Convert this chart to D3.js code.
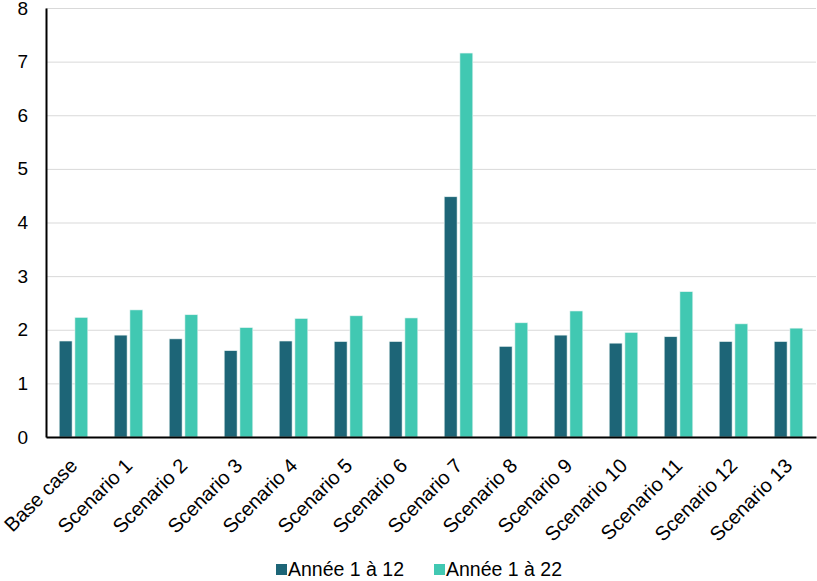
<!DOCTYPE html>
<html>
<head>
<meta charset="utf-8">
<script src="https://cdn.jsdelivr.net/npm/d3@7"></script>
<style>
  body { margin: 0; background: #fff; }
  text { font-family: "Liberation Sans", Arial, sans-serif; fill: #000; }
</style>
</head>
<body>
<svg id="chart" width="817" height="581"></svg>
<script>
const categories = ["Base case", "Scenario 1", "Scenario 2", "Scenario 3", "Scenario 4", "Scenario 5", "Scenario 6",
  "Scenario 7", "Scenario 8", "Scenario 9", "Scenario 10", "Scenario 11", "Scenario 12", "Scenario 13"];
const seriesNames = ["Année 1 à 12", "Année 1 à 22"];
const annee12 = [1.79, 1.90, 1.83, 1.61, 1.79, 1.78, 1.78, 4.48, 1.69, 1.90, 1.75, 1.87, 1.78, 1.78];
const annee22 = [2.23, 2.37, 2.28, 2.04, 2.21, 2.26, 2.22, 7.16, 2.13, 2.35, 1.95, 2.71, 2.11, 2.03];
const yTicks = [0, 1, 2, 3, 4, 5, 6, 7, 8];
const colors = ["#1d6577", "#41c8b2"];

const svg = d3.select('#chart');
const margin = { top: 8, right: 1, bottom: 144, left: 46 };
const width = +svg.attr('width');
const height = +svg.attr('height');
const innerWidth = width - margin.left - margin.right;
const innerHeight = height - margin.top - margin.bottom;

const rows = categories.map((c, i) => ({ cat: c, values: [annee12[i], annee22[i]] }));

const x = d3.scaleBand().domain(categories).range([0, innerWidth]).paddingInner(0.48).paddingOuter(0.24);
const xSub = d3.scaleBand().domain([0, 1]).range([0, x.bandwidth()]).paddingInner(0.18);
const y = d3.scaleLinear().domain([0, 8]).range([innerHeight, 0]);

const g = svg.append('g').attr('transform', 'translate(' + margin.left + ',' + margin.top + ')');

// gridlines
g.append('g')
  .call(d3.axisLeft(y).tickValues(yTicks).tickSize(-innerWidth).tickFormat(''))
  .call(a => a.select('.domain').remove())
  .selectAll('line').attr('stroke', '#d9d9d9').attr('stroke-width', 1);

// bars
const groups = g.selectAll('.grp').data(rows).enter().append('g')
  .attr('transform', d => 'translate(' + x(d.cat) + ',0)');

groups.selectAll('rect').data(d => d.values).enter().append('rect')
  .attr('x', (d, i) => xSub(i))
  .attr('width', xSub.bandwidth())
  .attr('y', d => y(d))
  .attr('height', d => innerHeight - y(d))
  .attr('fill', (d, i) => colors[i])
  .attr('stroke', '#e8f4f2')
  .attr('stroke-width', 0.6);

// y axis
const yAxisG = g.append('g')
  .call(d3.axisLeft(y).tickValues(yTicks).tickSize(0).tickPadding(18));
yAxisG.select('.domain').attr('stroke', '#000').attr('stroke-width', 2);
yAxisG.selectAll('text').style('font-size', '19px').style('fill', '#000');

// x axis
const xAxisG = g.append('g')
  .attr('transform', 'translate(0,' + innerHeight + ')')
  .call(d3.axisBottom(x).tickSize(0).tickPadding(0));
xAxisG.select('.domain').attr('stroke', '#000').attr('stroke-width', 2);
xAxisG.selectAll('text')
  .style('font-size', '20px')
  .style('text-anchor', 'end')
  .attr('dy', 0)
  .attr('transform', 'translate(5,30) rotate(-45)');

// legend
const legend = svg.append('g').attr('transform', 'translate(276,563)');
const items = legend.selectAll('.item').data(seriesNames).enter().append('g')
  .attr('transform', (d, i) => 'translate(' + (i * 158) + ',0)');
items.append('rect').attr('width', 11).attr('height', 11).attr('y', 1).attr('fill', (d, i) => colors[i]);
items.append('text').attr('x', 12).attr('y', 13).text(d => d).style('font-size', '19.5px');
</script>
</body>
</html>
